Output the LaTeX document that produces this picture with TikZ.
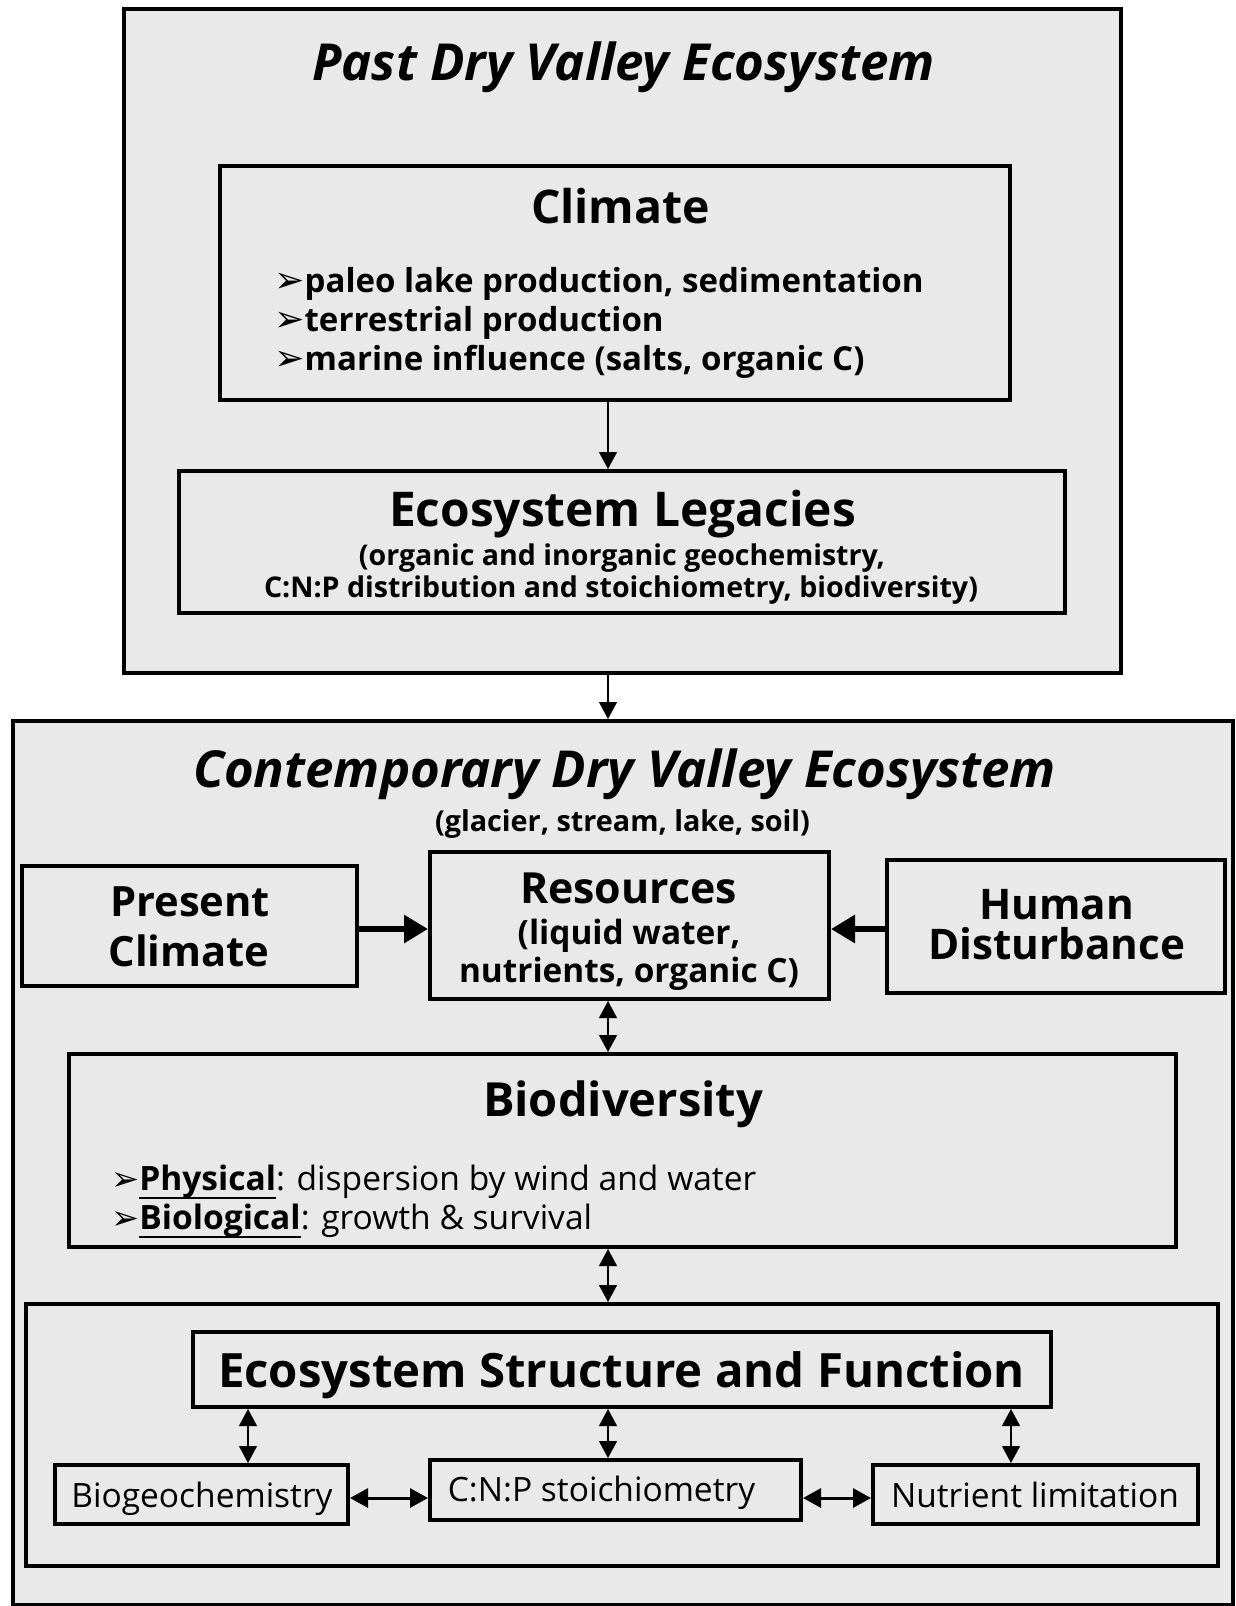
\documentclass[tikz,border=0pt]{standalone}
\usepackage{fontspec}
\setmainfont{Open Sans}
\newfontfamily\dvs{DejaVu Sans}
\usetikzlibrary{arrows.meta}
\definecolor{bgc}{RGB}{233,233,233}
\newlength\fitlen
\newsavebox\ulbox
\newcommand\mkfs[4]{\settowidth\fitlen{\normalfont\fontsize{10pt}{12pt}\selectfont#2#4}\pgfmathsetmacro#1{10*#3/\fitlen}}
\newcommand\ulx[1]{\sbox\ulbox{#1}\rlap{\rule[-9pt]{\wd\ulbox}{2pt}}\usebox\ulbox}
\newcommand\fs[1]{\fontsize{#1pt}{#1pt}\selectfont}
\newcommand\bulx[1]{{\dvs\fontsize{#1pt}{#1pt}\selectfont ➢}}
\begin{document}
% font sizes fitted to the widths of the reference
\mkfs\fsTitle{\bfseries\itshape}{623}{Past Dry Valley Ecosystem}%
\mkfs\fsClim{\bfseries}{179}{Climate}%
\mkfs\fsBul{\bfseries}{619}{paleo lake production, sedimentation}%
\mkfs\fsLeg{\bfseries}{467}{Ecosystem Legacies}%
\mkfs\fsLegS{\bfseries}{714}{C:N:P distribution and stoichiometry, biodiversity)}%
\mkfs\fsCon{\bfseries\itshape}{863}{Contemporary Dry Valley Ecosystem}%
\mkfs\fsGla{\bfseries}{375}{(glacier, stream, lake, soil)}%
\mkfs\fsPres{\bfseries}{161}{Climate}%
\mkfs\fsRes{\bfseries}{217}{Resources}%
\mkfs\fsResS{\bfseries}{340}{nutrients, organic C)}%
\mkfs\fsHum{\bfseries}{257}{Disturbance}%
\mkfs\fsBio{\bfseries}{280}{Biodiversity}%
\mkfs\fsPhy{}{617}{\textbf{Physical}: dispersion by wind and water}%
\mkfs\fsESF{\bfseries}{807}{Ecosystem Structure and Function}%
\mkfs\fsSm{}{288}{Nutrient limitation}%
\pgfmathsetmacro\fsBulB{1.1*\fsBul}%
\pgfmathsetmacro\fsPhyB{1.0*\fsPhy}%
\begin{tikzpicture}[x=1pt,y=-1pt,
  box/.style={draw, line width=4pt, fill=bgc, inner sep=0pt},
  txt/.style={inner sep=0pt, anchor=base},
  ltxt/.style={inner sep=0pt, anchor=base west},
  thinarr/.style={line width=1.4pt, -{Triangle[length=17pt,width=18pt]}},
  thindbl/.style={line width=1.4pt, {Triangle[length=17pt,width=18pt]}-{Triangle[length=17pt,width=18pt]}},
  meddbl/.style={line width=3pt, {Triangle[length=18pt,width=19pt]}-{Triangle[length=18pt,width=19pt]}},
  thickarr/.style={line width=6pt, -{Triangle[length=24pt,width=27pt]}}]
\useasboundingbox (0,0) rectangle (1235,1606);
% containers
\node[box, minimum width=997, minimum height=664] (past) at (622.5,341) {};
\node[box, minimum width=1220, minimum height=884] (contemp) at (623,1163) {};
% top part
\node[box, minimum width=790, minimum height=234] (climate) at (615,283) {};
\node[box, minimum width=886, minimum height=142] (leg) at (622,542) {};
\node[txt] (t1) at (623.5,80) {\fs{\fsTitle}\bfseries\itshape Past Dry Valley Ecosystem};
\node[txt] (t2) at (620.5,223) {\fs{\fsClim}\bfseries Climate};
\node[ltxt] (b1) at (274,292) {\fs{\fsBul}\bfseries\bulx{\fsBulB}paleo lake production, sedimentation};
\node[ltxt] (b2) at (274,331) {\fs{\fsBul}\bfseries\bulx{\fsBulB}terrestrial production};
\node[ltxt] (b3) at (274,370) {\fs{\fsBul}\bfseries\bulx{\fsBulB}marine influence (salts, organic C)};
\node[txt] (t3) at (622.5,526) {\fs{\fsLeg}\bfseries Ecosystem Legacies};
\node[txt] (t4) at (622,565) {\fs{\fsLegS}\bfseries (organic and inorganic geochemistry,};
\node[txt] (t5) at (621,597) {\fs{\fsLegS}\bfseries C:N:P distribution and stoichiometry, biodiversity)};
% lower part
\node[txt] (t6) at (624.5,787) {\fs{\fsCon}\bfseries\itshape Contemporary Dry Valley Ecosystem};
\node[txt] (t7) at (622.5,831) {\fs{\fsGla}\bfseries (glacier, stream, lake, soil)};
\node[box, minimum width=335, minimum height=120] (pres) at (189.5,926) {};
\node[box, minimum width=399, minimum height=147] (res) at (629.5,925.5) {};
\node[box, minimum width=338, minimum height=133] (hum) at (1056,926.5) {};
\node[txt] (t8) at (190,916.5) {\fs{\fsPres}\bfseries Present};
\node[txt] (t9) at (189,966) {\fs{\fsPres}\bfseries Climate};
\node[txt] (t10) at (628.5,903) {\fs{\fsRes}\bfseries Resources};
\node[txt] (t11) at (629,944) {\fs{\fsResS}\bfseries (liquid water,};
\node[txt] (t12) at (629,982) {\fs{\fsResS}\bfseries nutrients, organic C)};
\node[txt] (t13) at (1056.5,919) {\fs{\fsHum}\bfseries Human};
\node[txt] (t14) at (1056.5,959) {\fs{\fsHum}\bfseries Disturbance};
\node[box, minimum width=1107, minimum height=193] (bio) at (622.5,1150.5) {};
\node[txt] (t15) at (623,1116) {\fs{\fsBio}\bfseries Biodiversity};
\node[ltxt] (p1) at (111,1190) {\fs{\fsPhy}\bulx{\fsPhyB}\ulx{\textbf{Physical}}: dispersion by wind and water};
\node[ltxt] (p2) at (111,1229) {\fs{\fsPhy}\bulx{\fsPhyB}\ulx{\textbf{Biological}}: growth \& survival};
\node[box, minimum width=1192, minimum height=262] (grp) at (622,1435) {};
\node[box, minimum width=858, minimum height=75] (esf) at (622,1369.5) {};
\node[txt] (t16) at (621.5,1387) {\fs{\fsESF}\bfseries Ecosystem Structure and Function};
\node[box, minimum width=293, minimum height=59] (bgc) at (201.5,1494.5) {};
\node[box, minimum width=371, minimum height=60] (cnp) at (615.5,1490) {};
\node[box, minimum width=325, minimum height=59] (nut) at (1035.5,1494.5) {};
\node[txt] (t17) at (202,1507) {\fs{\fsSm}Biogeochemistry};
\node[txt] (t18) at (601.5,1501) {\fs{\fsSm}C:N:P stoichiometry};
\node[txt] (t19) at (1035,1507) {\fs{\fsSm}Nutrient limitation};
% connectors
\coordinate (ax) at (608,0);
\coordinate (ay) at (0,929);
\coordinate (bx1) at (248,0);
\coordinate (bx3) at (1011,0);
\coordinate (by) at (0,1498);
\draw[thinarr] (climate.south -| ax) -- (leg.north -| ax);
\draw[thinarr] (past.south -| ax) -- (contemp.north -| ax);
\draw[thickarr] (pres.east |- ay) -- (res.west |- ay);
\draw[thickarr] (hum.west |- ay) -- (res.east |- ay);
\draw[thindbl] (res.south -| ax) -- (bio.north -| ax);
\draw[thindbl] (bio.south -| ax) -- (grp.north -| ax);
\draw[thindbl] (esf.south -| bx1) -- (bgc.north -| bx1);
\draw[thindbl] (esf.south -| ax) -- (cnp.north -| ax);
\draw[thindbl] (esf.south -| bx3) -- (nut.north -| bx3);
\draw[meddbl] (bgc.east |- by) -- (cnp.west |- by);
\draw[meddbl] (cnp.east |- by) -- (nut.west |- by);
\end{tikzpicture}
\end{document}
